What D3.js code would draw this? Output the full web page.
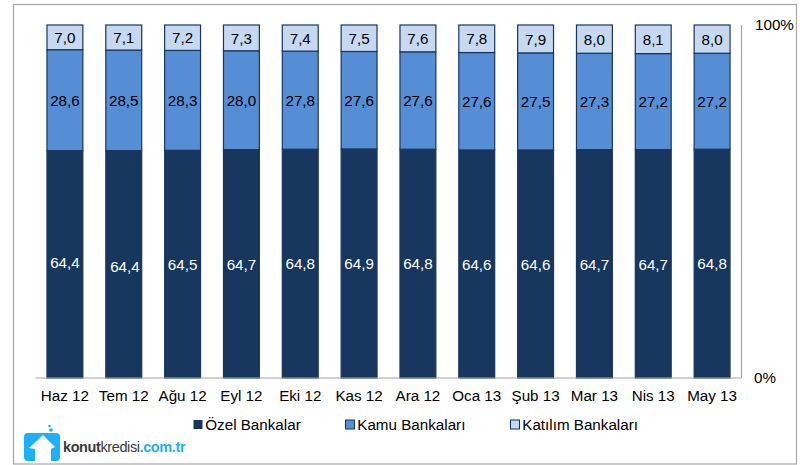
<!DOCTYPE html>
<html><head><meta charset="utf-8">
<script src="https://cdn.jsdelivr.net/npm/d3@7/dist/d3.min.js"></script>
<style>
html,body{margin:0;padding:0;background:#fff}
svg{display:block}
text{font-family:"Liberation Sans",Arial,sans-serif;fill:#000}
</style></head><body>
<svg id="c" width="800" height="465"></svg>
<script>
const months=["Haz 12","Tem 12","Ağu 12","Eyl 12","Eki 12","Kas 12","Ara 12","Oca 13","Şub 13","Mar 13","Nis 13","May 13"];
const ozel=[64.4,64.4,64.5,64.7,64.8,64.9,64.8,64.6,64.6,64.7,64.7,64.8];
const kamu=[28.6,28.5,28.3,28.0,27.8,27.6,27.6,27.6,27.5,27.3,27.2,27.2];
const katilim=[7.0,7.1,7.2,7.3,7.4,7.5,7.6,7.8,7.9,8.0,8.1,8.0];
const seriesNames=["Özel Bankalar","Kamu Bankaları","Katılım Bankaları"];
const seriesValues=[ozel,kamu,katilim];
const colors=["#17375e","#558ed5","#c6d9f1"];
const labelColors=["#fff","#000","#000"];
const yTicks=[0,100];
const FS=15.2;

const svg=d3.select("#c");
svg.append("rect").attr("x",13.5).attr("y",4.5).attr("width",783).attr("height",459.5)
  .attr("fill","#fff").attr("stroke","#a6a6a6").attr("stroke-width",1.2);

const x=d3.scaleBand().domain(months).range([35.5,741.5]).paddingInner(0.39).paddingOuter(0.195);
const y=d3.scaleLinear().domain([0,100]).range([378,25]);

seriesValues.forEach((vals,s)=>{
  const g=svg.append("g");
  vals.forEach((v,i)=>{
    const base=d3.sum(seriesValues.slice(0,s),a=>a[i]);
    const y0=y(base),y1=y(base+v);
    g.append("rect").attr("x",x(months[i])).attr("y",y1)
      .attr("width",x.bandwidth()).attr("height",y0-y1)
      .attr("fill",colors[s]).attr("stroke","#17375e").attr("stroke-width",1.2);
    // the two first dark-bar labels sit slightly off-centre in the original
    const ny=s===0?(i===0?-2:i===1?2:0):0, nx=(s===0&&i===1)?1.2:0;
    g.append("text").attr("x",x(months[i])+x.bandwidth()/2+nx).attr("y",(y0+y1)/2+5.7+ny)
      .attr("text-anchor","middle").attr("font-size",FS).style("fill",labelColors[s])
      .text(v.toFixed(1).replace(".",","));
  });
});

const ax=svg.append("g").attr("stroke","#a6a6a6").attr("stroke-width",1.2);
ax.append("line").attr("x1",35.5).attr("x2",741.5).attr("y1",y(0)).attr("y2",y(0));
ax.append("line").attr("x1",741.5).attr("x2",741.5).attr("y1",y(100)).attr("y2",y(0));

svg.append("g").selectAll("text").data(months).join("text")
  .attr("x",d=>x(d)+x.bandwidth()/2).attr("y",401).attr("text-anchor","middle")
  .attr("font-size",FS).text(d=>d);

svg.append("g").selectAll("text").data(yTicks).join("text")
  .attr("x",d=>d===100?755:754).attr("y",d=>y(d)+5).attr("font-size",FS).text(d=>d+"%");

const legendX=[193.5,345.5,510.5];
seriesNames.forEach((n,i)=>{
  svg.append("rect").attr("x",legendX[i]).attr("y",420).attr("width",9).attr("height",9).attr("fill",colors[i]).attr("stroke","#17375e").attr("stroke-width",i?1:0);
  svg.append("text").attr("x",legendX[i]+11.8).attr("y",430).attr("font-size",FS).text(n);
});

// logo
const logo=svg.append("g");
const blue="#1cb0f6";
logo.append("path").attr("fill",blue)
  .attr("d","M28 433 L56 433 Q60 433 60 437 L60 457 Q60 461 56 461 L28 461 Q24 461 24 457 L24 437 Q24 433 28 433Z");
logo.append("path").attr("fill","#fff")
  .attr("d","M43 435 L55 447 L51 449 L51 461 L35 461 L35 449 L29 448Z");
logo.selectAll("circle").data([[49,436,2.2],[51,430,1.8],[49.5,426,1.3]]).join("circle")
  .attr("cx",d=>d[0]).attr("cy",d=>d[1]).attr("r",d=>d[2]).attr("fill",blue);
const t=logo.append("text").attr("x",63).attr("y",452).attr("font-size",14.5).attr("font-weight","bold").attr("letter-spacing",-0.4);
t.append("tspan").style("fill","#3a3a3a").text("konut");
t.append("tspan").style("fill","#3a3a3a").attr("font-weight","normal").text("kredisi");
t.append("tspan").style("fill",blue).text(".com.tr");
</script>
</body></html>
